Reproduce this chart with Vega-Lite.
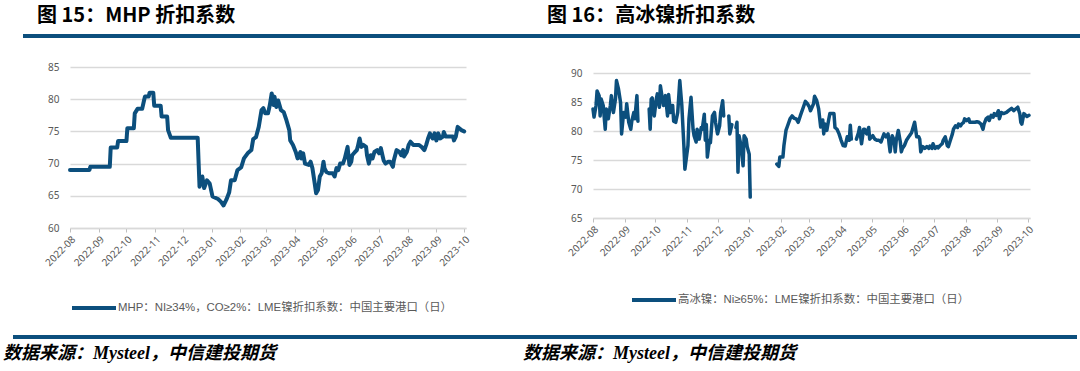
{
  "$schema": "https://vega.github.io/schema/vega-lite/v6.json",
  "background": "white",
  "padding": {"left": 3, "top": 6, "right": 0, "bottom": 0},
  "config": {"view": {"stroke": null}, "font": "Noto Sans CJK SC"},
  "spacing": 24,
  "resolve": {"scale": {"color": "independent"}, "legend": {"color": "independent"}},
  "vconcat": [
    {
      "spacing": 0,
      "hconcat": [
        {"width": 10, "height": 4, "data": {"values": []}, "mark": "rect", "encoding": {}},
        {"width": 524, "height": 4, "data": {"values": []}, "mark": "rect", "encoding": {},
         "view": {"fill": "#0c4f7d", "stroke": null},
         "title": {"text": "图 15：MHP 折扣系数", "anchor": "start", "dx": 14, "offset": 8, "fontSize": 20, "fontWeight": "bold", "color": "#000000", "font": "Noto Sans CJK SC"}},
        {"width": 540, "height": 4, "data": {"values": []}, "mark": "rect", "encoding": {},
         "view": {"fill": "#0c4f7d", "stroke": null},
         "title": {"text": "图 16：高冰镍折扣系数", "anchor": "start", "dx": 0, "offset": 8, "fontSize": 20, "fontWeight": "bold", "color": "#000000", "font": "Noto Sans CJK SC"}}
      ]
    },
    {
      "spacing": 19,
      "resolve": {"scale": {"color": "independent"}, "legend": {"color": "independent"}},
      "vconcat": [
        {
          "spacing": 0,
          "resolve": {"scale": {"color": "independent"}, "legend": {"color": "independent"}},
          "hconcat": [
            {"width": 30, "height": 1, "data": {"values": []}, "mark": "rect", "encoding": {}},
            {
              "spacing": 94,
              "resolve": {"scale": {"color": "independent"}, "legend": {"color": "independent"}},
              "hconcat": [
                {
                  "width": 396, "height": 161,
                  "data": {"values": [
                    {"date":"2022-08-01","value":69.0},{"date":"2022-08-22","value":69.0},{"date":"2022-08-23","value":69.5},{"date":"2022-09-13","value":69.5},
                    {"date":"2022-09-14","value":72.5},{"date":"2022-09-21","value":72.5},{"date":"2022-09-22","value":73.5},{"date":"2022-10-01","value":73.5},
                    {"date":"2022-10-02","value":75.5},{"date":"2022-10-09","value":75.5},{"date":"2022-10-10","value":77.8},{"date":"2022-10-13","value":78.5},
                    {"date":"2022-10-18","value":78.5},{"date":"2022-10-20","value":79.8},{"date":"2022-10-21","value":80.4},{"date":"2022-10-25","value":80.4},
                    {"date":"2022-10-26","value":81.0},{"date":"2022-10-30","value":81.0},{"date":"2022-10-31","value":79.0},{"date":"2022-11-07","value":79.0},
                    {"date":"2022-11-08","value":77.3},{"date":"2022-11-14","value":77.3},{"date":"2022-11-15","value":75.2},{"date":"2022-11-18","value":74.0},
                    {"date":"2022-12-17","value":74.0},{"date":"2022-12-19","value":66.4},{"date":"2022-12-22","value":68.0},{"date":"2022-12-24","value":66.2},
                    {"date":"2022-12-27","value":67.4},{"date":"2022-12-30","value":66.9},{"date":"2023-01-02","value":64.9},{"date":"2023-01-08","value":64.5},
                    {"date":"2023-01-11","value":64.1},{"date":"2023-01-14","value":63.5},{"date":"2023-01-17","value":64.4},{"date":"2023-01-20","value":65.5},
                    {"date":"2023-01-22","value":67.4},{"date":"2023-01-26","value":67.4},{"date":"2023-01-29","value":69.0},{"date":"2023-02-02","value":69.4},
                    {"date":"2023-02-05","value":70.8},{"date":"2023-02-09","value":71.6},{"date":"2023-02-13","value":72.1},{"date":"2023-02-15","value":73.8},
                    {"date":"2023-02-18","value":74.1},{"date":"2023-02-21","value":75.7},{"date":"2023-02-24","value":78.3},{"date":"2023-02-26","value":78.6},
                    {"date":"2023-02-28","value":77.8},{"date":"2023-03-03","value":77.8},{"date":"2023-03-05","value":79.1},{"date":"2023-03-07","value":80.9},
                    {"date":"2023-03-09","value":79.1},{"date":"2023-03-10","value":80.4},{"date":"2023-03-12","value":78.8},{"date":"2023-03-14","value":79.8},
                    {"date":"2023-03-17","value":78.3},{"date":"2023-03-20","value":78.0},{"date":"2023-03-23","value":76.7},{"date":"2023-03-26","value":75.2},
                    {"date":"2023-03-27","value":73.6},{"date":"2023-03-30","value":72.9},{"date":"2023-04-02","value":71.8},{"date":"2023-04-04","value":70.8},
                    {"date":"2023-04-07","value":71.8},{"date":"2023-04-08","value":70.8},{"date":"2023-04-10","value":71.6},{"date":"2023-04-12","value":70.0},
                    {"date":"2023-04-16","value":69.8},{"date":"2023-04-18","value":70.3},{"date":"2023-04-20","value":69.3},{"date":"2023-04-22","value":67.4},
                    {"date":"2023-04-24","value":65.4},{"date":"2023-04-26","value":65.9},{"date":"2023-04-28","value":68.0},{"date":"2023-04-30","value":68.5},
                    {"date":"2023-05-02","value":70.3},{"date":"2023-05-03","value":69.3},{"date":"2023-05-05","value":68.7},{"date":"2023-05-08","value":68.5},
                    {"date":"2023-05-12","value":68.5},{"date":"2023-05-14","value":68.0},{"date":"2023-05-16","value":69.3},{"date":"2023-05-18","value":69.0},
                    {"date":"2023-05-20","value":70.0},{"date":"2023-05-23","value":70.0},{"date":"2023-05-25","value":70.8},{"date":"2023-05-28","value":72.6},
                    {"date":"2023-05-30","value":69.8},{"date":"2023-06-01","value":70.3},{"date":"2023-06-02","value":71.3},{"date":"2023-06-05","value":71.8},
                    {"date":"2023-06-07","value":72.1},{"date":"2023-06-08","value":72.6},{"date":"2023-06-10","value":73.9},{"date":"2023-06-12","value":72.6},
                    {"date":"2023-06-14","value":72.9},{"date":"2023-06-17","value":72.6},{"date":"2023-06-18","value":71.3},{"date":"2023-06-20","value":70.0},
                    {"date":"2023-06-22","value":71.3},{"date":"2023-06-24","value":70.8},{"date":"2023-06-26","value":71.8},{"date":"2023-06-29","value":72.1},
                    {"date":"2023-07-01","value":71.6},{"date":"2023-07-03","value":72.4},{"date":"2023-07-05","value":71.1},{"date":"2023-07-06","value":70.5},
                    {"date":"2023-07-08","value":70.0},{"date":"2023-07-11","value":70.3},{"date":"2023-07-13","value":70.3},{"date":"2023-07-16","value":69.5},
                    {"date":"2023-07-17","value":70.5},{"date":"2023-07-20","value":72.1},{"date":"2023-07-23","value":71.8},{"date":"2023-07-25","value":71.3},
                    {"date":"2023-07-27","value":72.1},{"date":"2023-07-28","value":71.1},{"date":"2023-07-31","value":71.8},{"date":"2023-08-02","value":72.9},
                    {"date":"2023-08-04","value":73.4},{"date":"2023-08-07","value":72.9},{"date":"2023-08-13","value":72.9},{"date":"2023-08-16","value":72.6},
                    {"date":"2023-08-19","value":72.1},{"date":"2023-08-21","value":72.9},{"date":"2023-08-23","value":73.9},{"date":"2023-08-25","value":74.7},
                    {"date":"2023-08-28","value":73.9},{"date":"2023-08-30","value":74.7},{"date":"2023-09-01","value":73.6},{"date":"2023-09-03","value":74.7},
                    {"date":"2023-09-05","value":73.9},{"date":"2023-09-08","value":74.2},{"date":"2023-09-09","value":74.9},{"date":"2023-09-11","value":74.2},
                    {"date":"2023-09-19","value":74.2},{"date":"2023-09-20","value":73.6},{"date":"2023-09-22","value":74.2},{"date":"2023-09-24","value":75.7},
                    {"date":"2023-09-28","value":75.2},{"date":"2023-10-01","value":75.0}
                  ]},
                  "mark": {"type": "line", "strokeWidth": 4, "strokeJoin": "round", "strokeCap": "round"},
                  "encoding": {
                    "x": {"field": "date", "type": "temporal",
                          "scale": {"type": "utc", "domain": [{"year": 2022, "month": 8, "date": 1, "utc": true}, {"year": 2023, "month": 10, "date": 3, "utc": true}]},
                          "axis": {"title": null, "labelExpr": "utcFormat(datum.value, '%Y-%m')", "tickCount": {"interval": "month", "step": 1},
                                   "labelAngle": -45, "labelAlign": "right", "labelBaseline": "top", "labelFont": "Noto Sans", "labelFontSize": 10,
                                   "labelColor": "#595959", "labelPadding": 2, "tickSize": 4, "tickColor": "#bfbfbf", "domainColor": "#d9d9d9",
                                   "domainWidth": 1.5, "grid": false, "labelOverlap": false, "labelFlush": false, "labelBound": false}},
                    "y": {"field": "value", "type": "quantitative",
                          "scale": {"domain": [60, 85], "nice": false, "zero": false},
                          "axis": {"title": null, "values": [60, 65, 70, 75, 80, 85], "domain": false, "ticks": false, "grid": true,
                                   "gridColor": "#d9d9d9", "gridWidth": 1.5, "labelFont": "Noto Sans", "labelFontSize": 10,
                                   "labelColor": "#595959", "labelPadding": 11}},
                    "color": {"datum": "MHP：NI≥34%，CO≥2%：LME镍折扣系数：中国主要港口（日）", "type": "nominal",
                              "scale": {"range": ["#0c4f7d"]},
                              "legend": {"title": null, "orient": "none", "legendX": 0, "legendY": 217, "direction": "horizontal",
                                         "symbolType": "stroke", "symbolSize": 1936, "symbolStrokeWidth": 4,
                                         "labelFont": "Liberation Sans, Noto Sans CJK SC", "labelFontSize": 11.4, "labelColor": "#595959",
                                         "labelLimit": 1000, "labelOffset": 0}}
                  }
                },
                {
                  "spacing": 0,
                  "resolve": {"scale": {"color": "independent"}, "legend": {"color": "independent"}},
                  "vconcat": [
                    {"width": 1, "height": 1, "data": {"values": []}, "mark": "rect", "encoding": {}},
                    {
                      "width": 437, "height": 145,
                      "data": {"values": [
                        {"date":"2022-08-01","value":83.8},{"date":"2022-08-02","value":82.4},{"date":"2022-08-04","value":84.4},{"date":"2022-08-05","value":86.9},
                        {"date":"2022-08-07","value":86.1},{"date":"2022-08-08","value":82.6},{"date":"2022-08-09","value":85.5},{"date":"2022-08-11","value":84.4},
                        {"date":"2022-08-13","value":80.3},{"date":"2022-08-14","value":83.8},{"date":"2022-08-16","value":82.1},{"date":"2022-08-18","value":84.4},
                        {"date":"2022-08-19","value":86.1},{"date":"2022-08-21","value":83.2},{"date":"2022-08-23","value":85.5},{"date":"2022-08-24","value":88.7},
                        {"date":"2022-08-26","value":87.2},{"date":"2022-08-28","value":84.9},{"date":"2022-08-29","value":79.5},{"date":"2022-08-31","value":83.2},
                        {"date":"2022-09-02","value":82.4},{"date":"2022-09-03","value":84.7},{"date":"2022-09-05","value":81.5},{"date":"2022-09-07","value":80.3},
                        {"date":"2022-09-08","value":81.7},{"date":"2022-09-10","value":83.2},{"date":"2022-09-11","value":82.1},{"date":"2022-09-13","value":86.1},
                        {"date":"2022-09-14","value":81.7},{"date":"2022-09-20","value":null},
                        {"date":"2022-09-25","value":83.8},{"date":"2022-09-26","value":80.3},{"date":"2022-09-27","value":85.5},{"date":"2022-09-28","value":85.7},
                        {"date":"2022-09-30","value":82.6},{"date":"2022-10-02","value":85.5},{"date":"2022-10-03","value":86.4},{"date":"2022-10-05","value":84.1},
                        {"date":"2022-10-06","value":87.8},{"date":"2022-10-08","value":85.5},{"date":"2022-10-09","value":84.4},{"date":"2022-10-11","value":86.1},
                        {"date":"2022-10-13","value":82.6},{"date":"2022-10-14","value":86.3},{"date":"2022-10-16","value":83.2},{"date":"2022-10-18","value":84.4},
                        {"date":"2022-10-19","value":81.7},{"date":"2022-10-21","value":81.5},{"date":"2022-10-23","value":83.2},{"date":"2022-10-25","value":88.7},
                        {"date":"2022-10-27","value":84.4},{"date":"2022-10-29","value":77.5},{"date":"2022-10-30","value":73.4},{"date":"2022-11-02","value":77.5},
                        {"date":"2022-11-03","value":82.1},{"date":"2022-11-05","value":85.8},{"date":"2022-11-07","value":80.3},{"date":"2022-11-08","value":79.2},
                        {"date":"2022-11-10","value":78.1},{"date":"2022-11-11","value":80.3},{"date":"2022-11-13","value":78.6},{"date":"2022-11-15","value":80.6},
                        {"date":"2022-11-16","value":80.3},{"date":"2022-11-18","value":82.9},{"date":"2022-11-19","value":78.4},{"date":"2022-11-20","value":81.1},
                        {"date":"2022-11-21","value":75.5},{"date":"2022-11-23","value":78.4},{"date":"2022-11-24","value":78.0},{"date":"2022-11-26","value":82.6},
                        {"date":"2022-11-28","value":83.2},{"date":"2022-11-29","value":81.5},{"date":"2022-12-01","value":79.5},{"date":"2022-12-03","value":80.9},
                        {"date":"2022-12-04","value":83.2},{"date":"2022-12-06","value":85.2},{"date":"2022-12-07","value":82.6},{"date":"2022-12-09","value":null},
                        {"date":"2022-12-12","value":82.6},{"date":"2022-12-13","value":79.5},{"date":"2022-12-15","value":81.1},{"date":"2022-12-17","value":null},
                        {"date":"2022-12-19","value":80.6},{"date":"2022-12-20","value":81.5},{"date":"2022-12-21","value":72.9},{"date":"2022-12-22","value":79.2},
                        {"date":"2022-12-24","value":77.5},{"date":"2022-12-26","value":74.0},{"date":"2022-12-27","value":79.2},{"date":"2022-12-29","value":78.6},
                        {"date":"2022-12-30","value":77.3},{"date":"2023-01-01","value":76.0},{"date":"2023-01-02","value":68.6},{"date":"2023-01-15","value":null},
                        {"date":"2023-01-28","value":74.3},{"date":"2023-01-30","value":73.9},{"date":"2023-01-31","value":75.5},{"date":"2023-02-03","value":75.5},
                        {"date":"2023-02-04","value":77.5},{"date":"2023-02-06","value":80.1},{"date":"2023-02-07","value":80.6},{"date":"2023-02-10","value":82.1},
                        {"date":"2023-02-12","value":82.6},{"date":"2023-02-14","value":82.2},{"date":"2023-02-16","value":82.1},{"date":"2023-02-18","value":81.5},
                        {"date":"2023-02-20","value":82.6},{"date":"2023-02-23","value":84.1},{"date":"2023-02-25","value":85.1},{"date":"2023-02-27","value":84.7},
                        {"date":"2023-03-01","value":84.1},{"date":"2023-03-02","value":83.5},{"date":"2023-03-05","value":84.7},{"date":"2023-03-06","value":86.0},
                        {"date":"2023-03-08","value":85.3},{"date":"2023-03-10","value":83.8},{"date":"2023-03-12","value":80.7},{"date":"2023-03-14","value":81.9},
                        {"date":"2023-03-15","value":79.5},{"date":"2023-03-16","value":81.2},{"date":"2023-03-18","value":80.1},{"date":"2023-03-20","value":82.1},
                        {"date":"2023-03-21","value":83.0},{"date":"2023-03-25","value":83.0},{"date":"2023-03-26","value":80.6},{"date":"2023-03-28","value":80.3},
                        {"date":"2023-03-30","value":79.5},{"date":"2023-04-01","value":78.4},{"date":"2023-04-03","value":77.5},{"date":"2023-04-05","value":77.4},
                        {"date":"2023-04-07","value":79.0},{"date":"2023-04-09","value":78.4},{"date":"2023-04-10","value":81.0},{"date":"2023-04-11","value":78.6},
                        {"date":"2023-04-13","value":null},
                        {"date":"2023-04-16","value":78.6},{"date":"2023-04-18","value":79.7},{"date":"2023-04-19","value":80.6},{"date":"2023-04-21","value":77.8},
                        {"date":"2023-04-23","value":80.3},{"date":"2023-04-24","value":80.3},{"date":"2023-04-26","value":79.5},{"date":"2023-04-28","value":80.6},
                        {"date":"2023-04-29","value":78.6},{"date":"2023-05-02","value":79.2},{"date":"2023-05-04","value":78.6},{"date":"2023-05-06","value":78.4},
                        {"date":"2023-05-08","value":78.4},{"date":"2023-05-10","value":78.1},{"date":"2023-05-13","value":79.5},{"date":"2023-05-15","value":79.0},
                        {"date":"2023-05-17","value":79.5},{"date":"2023-05-18","value":77.8},{"date":"2023-05-19","value":76.4},{"date":"2023-05-21","value":79.2},
                        {"date":"2023-05-23","value":78.4},{"date":"2023-05-24","value":76.4},{"date":"2023-05-25","value":78.4},{"date":"2023-05-27","value":80.1},
                        {"date":"2023-05-29","value":78.1},{"date":"2023-05-30","value":76.4},{"date":"2023-05-31","value":77.0},{"date":"2023-06-02","value":77.5},
                        {"date":"2023-06-04","value":78.4},{"date":"2023-06-07","value":79.2},{"date":"2023-06-09","value":79.7},{"date":"2023-06-10","value":80.3},
                        {"date":"2023-06-12","value":81.5},{"date":"2023-06-13","value":80.3},{"date":"2023-06-14","value":79.0},{"date":"2023-06-16","value":79.0},
                        {"date":"2023-06-17","value":78.6},{"date":"2023-06-18","value":76.4},{"date":"2023-06-20","value":77.3},{"date":"2023-06-22","value":77.0},
                        {"date":"2023-06-24","value":77.3},{"date":"2023-06-26","value":77.0},{"date":"2023-06-27","value":77.4},{"date":"2023-06-29","value":77.0},
                        {"date":"2023-06-30","value":77.8},{"date":"2023-07-02","value":77.0},{"date":"2023-07-04","value":77.3},{"date":"2023-07-05","value":77.1},
                        {"date":"2023-07-07","value":77.5},{"date":"2023-07-09","value":77.8},{"date":"2023-07-10","value":78.4},{"date":"2023-07-12","value":79.0},
                        {"date":"2023-07-14","value":77.5},{"date":"2023-07-15","value":77.3},{"date":"2023-07-17","value":78.4},{"date":"2023-07-19","value":79.5},
                        {"date":"2023-07-20","value":80.3},{"date":"2023-07-22","value":80.9},{"date":"2023-07-24","value":80.6},{"date":"2023-07-25","value":81.2},
                        {"date":"2023-07-27","value":80.9},{"date":"2023-07-28","value":81.2},{"date":"2023-07-30","value":81.5},{"date":"2023-07-31","value":82.1},
                        {"date":"2023-08-02","value":81.8},{"date":"2023-08-04","value":82.1},{"date":"2023-08-05","value":81.5},{"date":"2023-08-08","value":81.5},
                        {"date":"2023-08-10","value":81.5},{"date":"2023-08-12","value":81.6},{"date":"2023-08-14","value":81.5},{"date":"2023-08-16","value":81.2},
                        {"date":"2023-08-18","value":80.3},{"date":"2023-08-19","value":81.2},{"date":"2023-08-21","value":82.1},{"date":"2023-08-23","value":82.4},
                        {"date":"2023-08-24","value":81.8},{"date":"2023-08-26","value":82.7},{"date":"2023-08-28","value":82.4},{"date":"2023-08-29","value":83.0},
                        {"date":"2023-08-31","value":82.7},{"date":"2023-09-02","value":83.5},{"date":"2023-09-03","value":82.1},{"date":"2023-09-05","value":83.2},
                        {"date":"2023-09-07","value":83.0},{"date":"2023-09-10","value":83.2},{"date":"2023-09-12","value":83.5},{"date":"2023-09-15","value":83.9},
                        {"date":"2023-09-17","value":83.5},{"date":"2023-09-19","value":83.8},{"date":"2023-09-21","value":84.1},{"date":"2023-09-23","value":83.0},
                        {"date":"2023-09-24","value":81.5},{"date":"2023-09-25","value":81.2},{"date":"2023-09-27","value":83.0},{"date":"2023-09-30","value":82.5},
                        {"date":"2023-10-02","value":82.7}
                      ]},
                      "mark": {"type": "line", "strokeWidth": 3.5, "strokeJoin": "round", "strokeCap": "round"},
                      "encoding": {
                        "x": {"field": "date", "type": "temporal",
                              "scale": {"type": "utc", "domain": [{"year": 2022, "month": 8, "date": 1, "utc": true}, {"year": 2023, "month": 10, "date": 3, "utc": true}]},
                              "axis": {"title": null, "labelExpr": "utcFormat(datum.value, '%Y-%m')", "tickCount": {"interval": "month", "step": 1},
                                       "labelAngle": -45, "labelAlign": "right", "labelBaseline": "top", "labelFont": "Noto Sans", "labelFontSize": 10,
                                       "labelColor": "#595959", "labelPadding": 2, "tickSize": 4, "tickColor": "#bfbfbf", "domainColor": "#d9d9d9",
                                       "domainWidth": 1.5, "grid": false, "labelOverlap": false, "labelFlush": false, "labelBound": false}},
                        "y": {"field": "value", "type": "quantitative",
                              "scale": {"domain": [65, 90], "nice": false, "zero": false},
                              "axis": {"title": null, "values": [65, 70, 75, 80, 85, 90], "domain": false, "ticks": false, "grid": true,
                                       "gridColor": "#d9d9d9", "gridWidth": 1.5, "labelFont": "Noto Sans", "labelFontSize": 10,
                                       "labelColor": "#595959", "labelPadding": 11}},
                        "color": {"datum": "高冰镍：Ni≥65%：LME镍折扣系数：中国主要港口（日）", "type": "nominal",
                                  "scale": {"range": ["#0c4f7d"]},
                                  "legend": {"title": null, "orient": "none", "legendX": 37, "legendY": 203, "direction": "horizontal",
                                             "symbolType": "stroke", "symbolSize": 1936, "symbolStrokeWidth": 4,
                                             "labelFont": "Liberation Sans, Noto Sans CJK SC", "labelFontSize": 11.4, "labelColor": "#595959",
                                             "labelLimit": 1000, "labelOffset": 0}}
                      }
                    }
                  ]
                }
              ]
            }
          ]
        },
        {
          "spacing": 0,
          "hconcat": [
            {"width": 510, "height": 4, "data": {"values": []}, "mark": "rect", "encoding": {},
             "view": {"fill": "#0c4f7d", "stroke": null},
             "title": {"text": "数据来源：Mysteel，中信建投期货", "orient": "bottom", "anchor": "start", "dx": -10, "offset": 6, "fontSize": 18, "fontWeight": "bold", "fontStyle": "italic", "color": "#000000", "font": "Liberation Serif, Noto Sans CJK SC"}},
            {"width": 554, "height": 4, "data": {"values": []}, "mark": "rect", "encoding": {},
             "view": {"fill": "#0c4f7d", "stroke": null},
             "title": {"text": "数据来源：Mysteel，中信建投期货", "orient": "bottom", "anchor": "start", "dx": 0, "offset": 6, "fontSize": 18, "fontWeight": "bold", "fontStyle": "italic", "color": "#000000", "font": "Liberation Serif, Noto Sans CJK SC"}}
          ]
        }
      ]
    }
  ]
}
